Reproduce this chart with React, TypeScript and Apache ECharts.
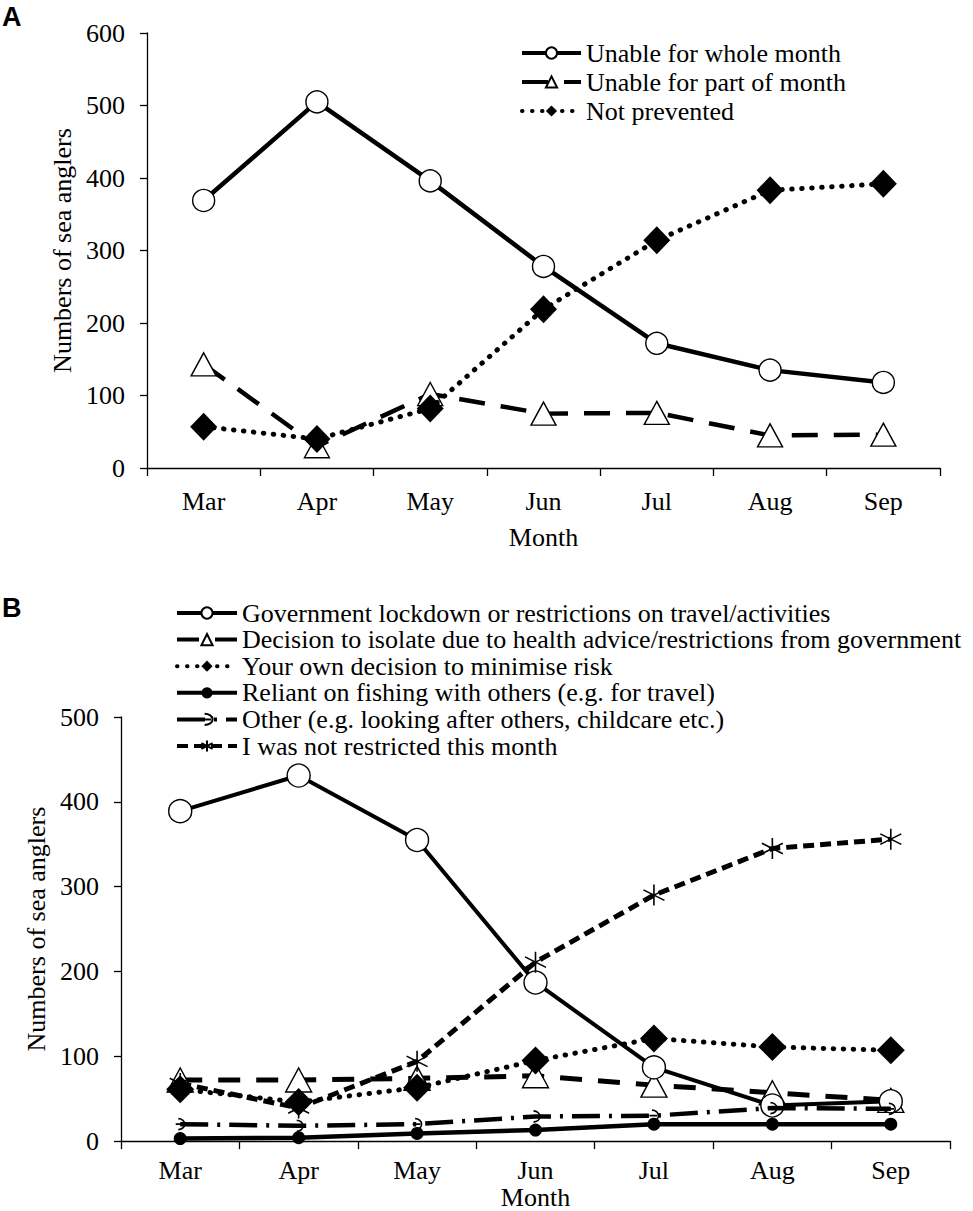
import React, { useEffect, useRef } from "react";
import * as echarts from "echarts";

const months = ["Mar", "Apr", "May", "Jun", "Jul", "Aug", "Sep"];

// Panel A
const unableWhole = [369, 505, 396, 278, 172, 135, 118];
const unablePart = [143, 30, 102, 75, 76, 45, 46];
const notPrevented = [57, 40, 82, 219, 314, 383, 392];

// Panel B
const govLockdown = [389, 431, 355, 187, 87, 42, 47];
const isolateDecision = [72, 72, 74, 77, 66, 57, 48];
const ownDecision = [61, 46, 63, 95, 121, 111, 107];
const reliantOthers = [3, 4, 9, 13, 20, 20, 20];
const otherReasons = [20, 18, 20, 29, 30, 39, 38];
const notRestricted = [68, 39, 94, 211, 290, 345, 356];

const namesA = ["Unable for whole month", "Unable for part of month", "Not prevented"];
const namesB = [
  "Government lockdown or restrictions on travel/activities",
  "Decision to isolate due to health advice/restrictions from government",
  "Your own decision to minimise risk",
  "Reliant on fishing with others (e.g. for travel)",
  "Other (e.g. looking after others, childcare etc.)",
  "I was not restricted this month",
];

const SERIF = '"Liberation Serif", "Times New Roman", serif';
const SANS = '"Liberation Sans", Arial, sans-serif';

const asterisk = "path://M10,0L10,20M1.34,5L18.66,15M1.34,15L18.66,5";
const hook = "path://M2,0A5,5 0 1 1 2,10M0,5L6,5";

function axisPair(gridIndex: number, max: number, labelMargin: number, nameGap: number, yNameGap: number) {
  const x = {
    type: "category",
    gridIndex,
    data: months,
    boundaryGap: true,
    name: "Month",
    nameLocation: "middle",
    nameGap,
    nameTextStyle: { fontFamily: SERIF, fontSize: 26, color: "#000" },
    axisLine: { show: true, lineStyle: { color: "#000", width: 1.3 } },
    axisTick: { show: true, interval: 0, alignWithLabel: false, length: 8, lineStyle: { color: "#000", width: 1.3 } },
    axisLabel: { fontFamily: SERIF, fontSize: 26, color: "#000", margin: labelMargin, interval: 0 },
    splitLine: { show: false },
  };
  const y = {
    type: "value",
    gridIndex,
    min: 0,
    max,
    interval: 100,
    name: "Numbers of sea anglers",
    nameLocation: "middle",
    nameRotate: 90,
    nameGap: yNameGap,
    nameTextStyle: { fontFamily: SERIF, fontSize: 26, color: "#000" },
    axisLine: { show: true, lineStyle: { color: "#000", width: 1.3 } },
    axisTick: { show: true, inside: false, length: 7, lineStyle: { color: "#000", width: 1.3 } },
    axisLabel: { fontFamily: SERIF, fontSize: 26, color: "#000", margin: 22 },
    splitLine: { show: false },
  };
  return { x, y };
}

function line(
  name: string,
  data: number[],
  idx: number,
  lineStyle: any,
  symbol: string,
  symbolSize: any,
  itemStyle: any,
  z = 2
) {
  return {
    type: "line",
    name,
    data,
    xAxisIndex: idx,
    yAxisIndex: idx,
    symbol,
    symbolSize,
    showAllSymbol: true,
    lineStyle: { color: "#000", ...lineStyle },
    itemStyle,
    z,
    emphasis: { disabled: true },
  };
}

const hollow = { color: "#fff", borderColor: "#000", borderWidth: 1.4 };
const filled = { color: "#000", borderColor: "#000", borderWidth: 0 };
const stroked = { color: "rgba(0,0,0,0)", borderColor: "#000", borderWidth: 1.6 };

export default function App() {
  const ref = useRef<HTMLDivElement>(null);
  useEffect(() => {
    document.body.style.margin = "0";
    if (!ref.current) return;
    const chart = echarts.init(ref.current, undefined, { renderer: "svg" });
    const a = axisPair(0, 600, 20, 56, 64);
    const b = axisPair(1, 500, 16, 33, 70);
    const dotted = { width: 5, type: [0.5, 9.5], cap: "round" };
    const legendText = { fontFamily: SERIF, fontSize: 26, lineHeight: 26, color: "#000" };
    chart.setOption({
      animation: false,
      backgroundColor: "#fff",
      textStyle: { fontFamily: SERIF, color: "#000" },
      grid: [
        { left: 147, top: 33, width: 793, height: 435 },
        { left: 121, top: 717, width: 829, height: 437 },
      ],
      xAxis: [a.x, b.x],
      yAxis: [a.y, b.y],
      legend: [
        {
          data: namesA,
          orient: "vertical",
          left: 520,
          top: 40,
          padding: 0,
          itemWidth: 59,
          itemHeight: 14,
          itemGap: 3,
          selectedMode: false,
          lineStyle: { width: 4 },
          textStyle: legendText,
        },
        {
          data: namesB,
          orient: "vertical",
          left: 175,
          top: 600,
          padding: 0,
          itemWidth: 60,
          itemHeight: 14,
          itemGap: 0.6,
          selectedMode: false,
          lineStyle: { width: 4 },
          textStyle: legendText,
        },
      ],
      graphic: [
        { type: "text", left: 2, top: 3, style: { text: "A", font: `bold 27px ${SANS}`, fill: "#000" } },
        { type: "text", left: 2, top: 594, style: { text: "B", font: `bold 27px ${SANS}`, fill: "#000" } },
      ],
      series: [
        line(namesA[0], unableWhole, 0, { width: 4.5, type: "solid" }, "circle", 22, hollow, 3),
        line(namesA[1], unablePart, 0, { width: 4.5, type: [26, 16] }, "triangle", [25, 23], hollow, 4),
        line(namesA[2], notPrevented, 0, dotted, "diamond", [27, 28], filled, 5),

        line(namesB[0], govLockdown, 1, { width: 4, type: "solid" }, "circle", 23, hollow, 3),
        line(namesB[1], isolateDecision, 1, { width: 5, type: [22, 16] }, "triangle", [26, 24], hollow, 2),
        line(namesB[2], ownDecision, 1, dotted, "diamond", [28, 28], filled, 5),
        line(namesB[3], reliantOthers, 1, { width: 4.5, type: "solid" }, "circle", 13, filled, 4),
        line(namesB[4], otherReasons, 1, { width: 4.5, type: [28, 9, 3, 9] }, hook, [9, 11], stroked, 4),
        line(namesB[5], notRestricted, 1, { width: 5, type: [11, 6] }, asterisk, 21, stroked, 4),
      ],
    });
    return () => chart.dispose();
  }, []);
  return <div ref={ref} style={{ width: 973, height: 1211 }} />;
}
